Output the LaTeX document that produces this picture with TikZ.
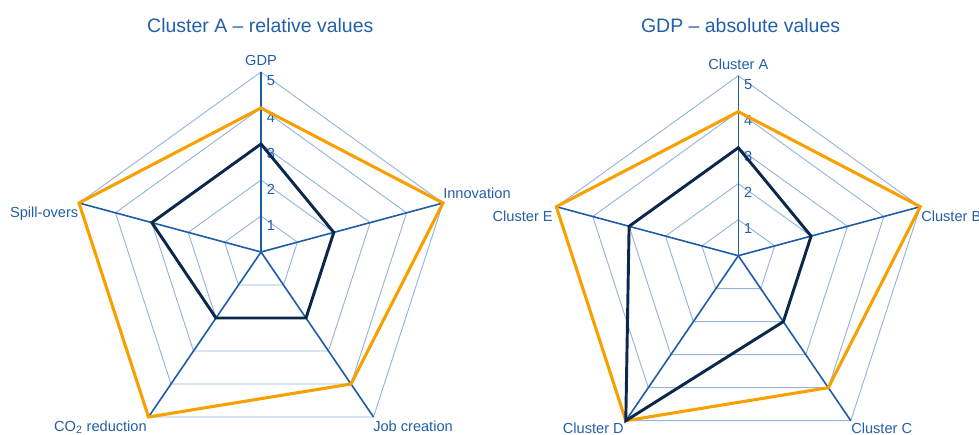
\documentclass[tikz,border=0pt]{standalone}
\usepackage{fontspec}
\setmainfont{Liberation Sans}
\usetikzlibrary{calc}
\definecolor{orangeline}{RGB}{247,160,0}
\definecolor{navyline}{RGB}{10,40,75}
\definecolor{spokeblue}{RGB}{30,92,168}
\definecolor{gridblue}{RGB}{150,180,222}
\definecolor{textblue}{RGB}{35,95,170}
\tikzset{
  gridline/.style={draw=gridblue, line width=0.7pt},
  spoke/.style={draw=spokeblue, line width=1.2pt},
  seriesA/.style={draw=orangeline, line width=2.3pt, line join=miter},
  seriesB/.style={draw=navyline, line width=2.2pt, line join=miter},
  lbl/.style={text=textblue, inner sep=0pt, font=\fontsize{10.95}{13}\selectfont},
  ticklbl/.style={text=textblue, inner sep=0pt, anchor=base west, font=\fontsize{10.95}{13}\selectfont},
  charttitle/.style={text=textblue, inner sep=0pt, anchor=base, font=\fontsize{14.6}{17}\selectfont},
}
\newcommand{\radargrid}[1]{%
  \coordinate (#1c) at (0,0);
  \coordinate (#1v1) at (0,-180);
  \coordinate (#1v2) at (182,-49);
  \coordinate (#1v3) at (112.5,165);
  \coordinate (#1v4) at (-112.5,165);
  \coordinate (#1v5) at (-182,-49);
  \foreach \k in {1,...,5} {
    \foreach \a in {1,...,5} {
      \coordinate (#1-\a-\k) at ($(#1c)!\k/5!(#1v\a)$);
    }
    \draw[gridline] (#1-1-\k) -- (#1-2-\k) -- (#1-3-\k) -- (#1-4-\k) -- (#1-5-\k) -- cycle;
  }
  \foreach \a in {1,...,5} {\draw[spoke] (#1c) -- (#1v\a);}
  \foreach \k in {1,...,5} {\node[ticklbl] (#1t\k) at ($(#1-1-\k)+(5.5,14)$) {\k};}
}
\begin{document}
\begin{tikzpicture}[x=0.75pt,y=-0.75pt]
\path[use as bounding box] (0,0) rectangle (979,435);

% titles
\node[charttitle] (titleL) at (260.3,32.3) {Cluster A – relative values};
\node[charttitle] (titleR) at (740.6,32.3) {GDP – absolute values};

% left chart
\begin{scope}[shift={(261,252)}]
  \radargrid{L}
\end{scope}
\draw[seriesA] (L-1-4) -- (L-2-5) -- (L-3-4) -- (L-4-5) -- (L-5-5) -- cycle;
\draw[seriesB] (L-1-3) -- (L-2-2) -- (L-3-2) -- (L-4-2) -- (L-5-3) -- cycle;
\node[lbl, anchor=base] (lgdp) at (261,65.7) {GDP};
\node[lbl, anchor=base west] (linno) at (443,198.3) {Innovation};
\node[lbl, anchor=base east] (lspill) at (78.5,217.3) {Spill-overs};
\node[lbl, anchor=base east] (lco2) at (147,431.5) {CO\textsubscript{2} reduction};
\node[lbl, anchor=base west] (ljob) at (373,431.5) {Job creation};

% right chart
\begin{scope}[shift={(738.3,255.7)}]
  \radargrid{R}
\end{scope}
\draw[seriesA] (R-1-4) -- (R-2-5) -- (R-3-4) -- (R-4-5) -- (R-5-5) -- cycle;
\draw[seriesB] (R-1-3) -- (R-2-2) -- (R-3-2) -- (R-4-5) -- (R-5-3) -- cycle;
\node[lbl, anchor=base] (ra) at (738.3,69.3) {Cluster A};
\node[lbl, anchor=base west] (rb) at (921,221.7) {Cluster B};
\node[lbl, anchor=base east] (re) at (553,221.7) {Cluster E};
\node[lbl, anchor=base east] (rd) at (624,433) {Cluster D};
\node[lbl, anchor=base west] (rc) at (851,433) {Cluster C};
\end{tikzpicture}
\end{document}
